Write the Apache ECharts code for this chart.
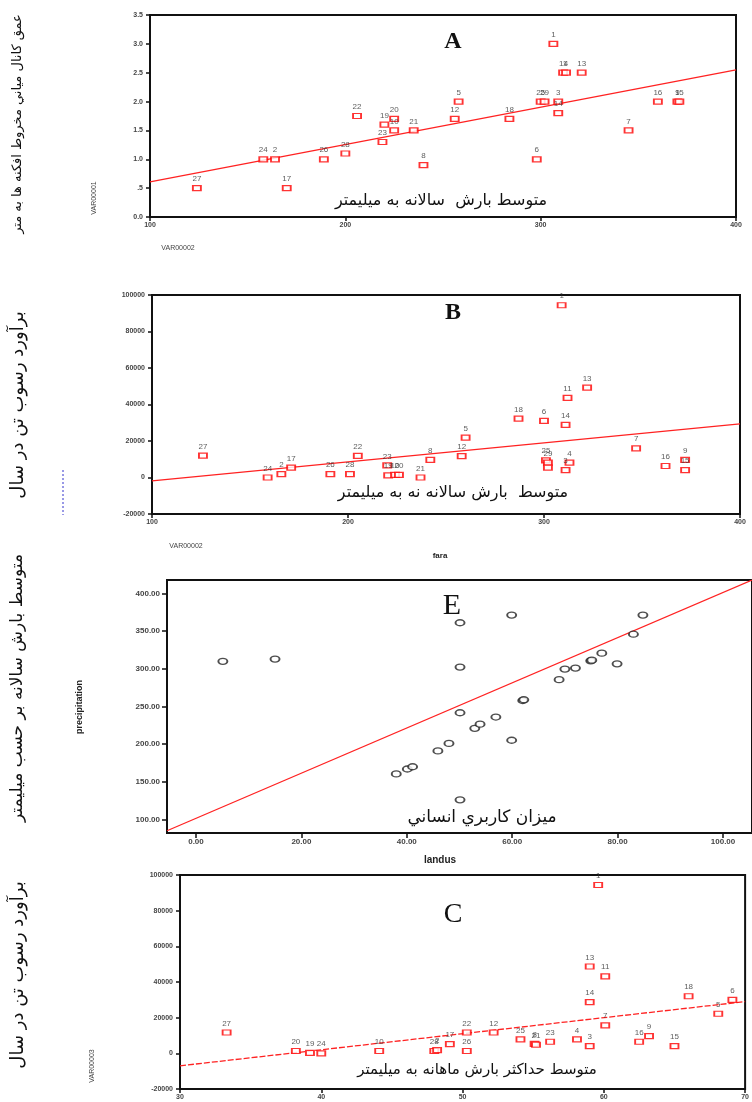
<!DOCTYPE html>
<html>
<head>
<meta charset="utf-8">
<script src="https://cdn.jsdelivr.net/npm/echarts@6/dist/echarts.min.js"></script>
<style>
  html, body { margin: 0; padding: 0; background: #fff; }
  #chart { width: 752px; height: 1102px; }
</style>
</head>
<body>
<div id="chart"></div>
<script>
// panel A: channel depth vs mean annual precipitation
var aIds = [27, 24, 2, 17, 26, 28, 22, 19, 20, 10, 23, 21, 8, 12, 5, 18, 6, 25, 29, 1, 11, 4, 13, 3, 14, 7, 16, 9, 15];
var aX = [124, 158, 164, 170, 189, 200, 206, 220, 225, 225, 219, 235, 240, 256, 258, 284, 298, 300, 302, 306.5, 311.5, 313, 321, 309, 309, 345, 360, 370, 371];
var aY = [0.5, 1.0, 1.0, 0.5, 1.0, 1.1, 1.75, 1.6, 1.7, 1.5, 1.3, 1.5, 0.9, 1.7, 2.0, 1.7, 1.0, 2.0, 2.0, 3.0, 2.5, 2.5, 2.5, 2.0, 1.8, 1.5, 2.0, 2.0, 2.0];
var aFit = [[100, 0.61], [400, 2.55]];

// panel B: sediment (t/yr) vs mean annual precipitation
var bIds = [27, 24, 2, 17, 26, 28, 22, 23, 19, 10, 20, 21, 8, 12, 5, 18, 6, 14, 11, 13, 1, 25, 29, '', 3, 4, 7, 16, 9, 15];
var bX = [126, 159, 166, 171, 191, 201, 205, 220, 220.5, 224, 226, 237, 242, 258, 260, 287, 300, 311, 312, 322, 309, 301, 302, 302, 311, 313, 347, 362, 372, 372];
var bY = [12000, 0, 1800, 5400, 1800, 1800, 11900, 6600, 1200, 1400, 1400, 0, 9700, 11700, 21800, 32300, 31000, 28800, 43600, 49200, 94400, 9400, 8200, 5400, 4000, 8100, 16000, 6300, 9700, 4000];
var bFit = [[100, -1800], [400, 29400]];

// panel E: precipitation vs land use
var eX = [5.1, 15.0, 38.0, 40.1, 41.1, 45.9, 48.0, 50.1, 50.1, 50.1, 50.1, 52.9, 53.9, 56.9, 59.9, 59.9, 62.0, 62.2, 68.9, 70.0, 72.0, 74.9, 75.1, 77.0, 79.9, 83.0, 84.8];
var eY = [310, 313, 160.5, 167, 170, 191, 201, 126, 241.7, 302.4, 361.2, 221, 226.5, 236, 205.2, 371.4, 258, 259, 285.6, 299.7, 301, 310.7, 311.5, 320.8, 306.7, 346, 371.4];
var eFit = [[-5.5, 85], [105.5, 418]];
var eXTicks = [0, 20, 40, 60, 80, 100];
var eYTicks = [100, 150, 200, 250, 300, 350, 400];

// panel C: sediment vs mean max monthly precipitation
var cIds = [27, 20, 19, 24, 10, 28, 2, 17, 26, 22, 12, 25, 8, 21, 23, 4, 3, 14, 13, 1, 11, 7, 16, 9, 15, 18, 5, 6];
var cX = [33.3, 38.2, 39.2, 40.0, 44.1, 48.0, 48.2, 49.1, 50.3, 50.3, 52.2, 54.1, 55.1, 55.2, 56.2, 58.1, 59.0, 59.0, 59.0, 59.6, 60.1, 60.1, 62.5, 63.2, 65.0, 66.0, 68.1, 69.1];
var cY = [11700, 1300, 300, 0, 1300, 1300, 1800, 5200, 1300, 11700, 11700, 7800, 5300, 4800, 6500, 7800, 4000, 28700, 48700, 94400, 43200, 15700, 6500, 9600, 4000, 32000, 22200, 30000];
var cFit = [[30, -7000], [70, 29000]];

var sans = 'Liberation Sans';
var fa = 'DejaVu Sans';

function pts(xs, ys, ids) {
    return xs.map(function (x, i) {
        return { value: [x, ys[i]], name: ids ? String(ids[i]) : '' };
    });
}

function redBoxes(xs, ys, ids, idx) {
    return {
        type: 'scatter', xAxisIndex: idx, yAxisIndex: idx, z: 3,
        symbol: 'rect', symbolSize: [8, 5],
        itemStyle: { color: '#fff', borderColor: '#f00', borderWidth: 1.5 },
        label: { show: true, position: 'top', distance: 2, formatter: '{b}', fontSize: 8, fontFamily: sans, color: '#333' },
        data: pts(xs, ys, ids)
    };
}

function fitLine(d, idx, dashed) {
    return {
        type: 'line', xAxisIndex: idx, yAxisIndex: idx, z: 2, silent: true,
        showSymbol: false, data: d,
        lineStyle: { color: '#f22', width: 1.3, type: dashed ? [6, 2] : 'solid' }
    };
}

function axX(min, max, interval) {
    return {
        type: 'value', min: min, max: max, interval: interval,
        splitLine: { show: false },
        axisLine: { onZero: false, lineStyle: { color: '#111', width: 2 } },
        axisTick: { length: 4, lineStyle: { color: '#111', width: 1.5 } },
        axisLabel: { fontSize: 7, fontFamily: sans, fontWeight: 'bold', color: '#444', margin: 5,
            formatter: function (v) { return String(v); } }
    };
}

function axY(min, max, interval, fmt) {
    var a = axX(min, max, interval);
    if (fmt) a.axisLabel.formatter = fmt;
    a.axisLabel.margin = 7;
    return a;
}

var myChart = echarts.init(document.getElementById('chart'));

var frame = { show: true, borderColor: '#111', borderWidth: 2, backgroundColor: '#fff' };

var eXAxis = axX(-5.5, 105.5, null);
delete eXAxis.interval;
eXAxis.axisTick.customValues = eXTicks;
eXAxis.axisLabel.customValues = eXTicks;
eXAxis.axisLabel.formatter = function (v) { return v.toFixed(2); };
eXAxis.axisLabel.fontSize = 8;
eXAxis.axisTick.length = 5;

var eYAxis = axY(82, 418, null, function (v) { return v.toFixed(2); });
delete eYAxis.interval;
eYAxis.axisTick.customValues = eYTicks;
eYAxis.axisLabel.customValues = eYTicks;
eYAxis.axisLabel.fontSize = 8;
eYAxis.axisTick.length = 5;

var option = {
    animation: false,
    grid: [
        Object.assign({ left: 150, top: 15, width: 586, height: 202 }, frame),
        Object.assign({ left: 152, top: 295, width: 588, height: 219 }, frame),
        Object.assign({ left: 167, top: 580, width: 585, height: 253 }, frame),
        Object.assign({ left: 180, top: 875, width: 578, height: 214 }, frame)
    ],
    xAxis: [
        Object.assign(axX(100, 400, 100), { gridIndex: 0 }),
        Object.assign(axX(100, 400, 100), { gridIndex: 1 }),
        Object.assign(eXAxis, { gridIndex: 2 }),
        Object.assign(axX(30, 70, 10), { gridIndex: 3 })
    ],
    yAxis: [
        Object.assign(axY(0, 3.5, 0.5, function (v) { return v === 0.5 ? '.5' : v.toFixed(1); }), { gridIndex: 0 }),
        Object.assign(axY(-20000, 100000, 20000), { gridIndex: 1 }),
        Object.assign(eYAxis, { gridIndex: 2 }),
        Object.assign(axY(-20000, 100000, 20000), { gridIndex: 3 })
    ],
    series: [
        fitLine(aFit, 0, false),
        redBoxes(aX, aY, aIds, 0),
        fitLine(bFit, 1, false),
        redBoxes(bX, bY, bIds, 1),
        fitLine(eFit, 2, false),
        {
            type: 'scatter', xAxisIndex: 2, yAxisIndex: 2, z: 3,
            symbol: 'circle', symbolSize: [9, 6],
            itemStyle: { color: '#fff', borderColor: '#222', borderWidth: 1.6 },
            data: pts(eX, eY)
        },
        fitLine(cFit, 3, true),
        redBoxes(cX, cY, cIds, 3)
    ],
    graphic: [
        // panel letters
        { type: 'text', x: 453, y: 42, style: { text: 'A', font: 'bold 24px "Liberation Serif"', fill: '#111', align: 'center', verticalAlign: 'middle' } },
        { type: 'text', x: 453, y: 313, style: { text: 'B', font: 'bold 24px "Liberation Serif"', fill: '#111', align: 'center', verticalAlign: 'middle' } },
        { type: 'text', x: 452, y: 606, style: { text: 'E', font: '30px "Liberation Serif"', fill: '#111', align: 'center', verticalAlign: 'middle' } },
        { type: 'text', x: 453, y: 915, style: { text: 'C', font: '28px "Liberation Serif"', fill: '#111', align: 'center', verticalAlign: 'middle' } },
        // persian notes inside plots
        { type: 'text', x: 441, y: 201, style: { text: 'متوسط بارش  سالانه به میلیمتر', font: '16px "' + fa + '"', fill: '#111', align: 'center', verticalAlign: 'middle' } },
        { type: 'text', x: 453, y: 493, style: { text: 'متوسط  بارش سالانه نه به میلیمتر', font: '16px "' + fa + '"', fill: '#111', align: 'center', verticalAlign: 'middle' } },
        { type: 'text', x: 482, y: 818, style: { text: 'میزان كاربري انساني', font: '17px "' + fa + '"', fill: '#111', align: 'center', verticalAlign: 'middle' } },
        { type: 'text', x: 477, y: 1070, style: { text: 'متوسط حداکثر بارش ماهانه به میلیمتر', font: '15px "' + fa + '"', fill: '#111', align: 'center', verticalAlign: 'middle' } },
        // rotated persian titles on the left
        { type: 'text', x: 18, y: 124, rotation: Math.PI / 2, style: { text: 'عمق كانال مياني مخروط افكنه ها به متر', font: '13px "' + fa + '"', fill: '#111', align: 'center', verticalAlign: 'middle' } },
        { type: 'text', x: 18, y: 405, rotation: Math.PI / 2, style: { text: 'برآورد رسوب تن در سال', font: '18px "' + fa + '"', fill: '#111', align: 'center', verticalAlign: 'middle' } },
        { type: 'text', x: 18, y: 688, rotation: Math.PI / 2, style: { text: 'متوسط بارش سالانه بر حسب میلیمتر', font: '17px "' + fa + '"', fill: '#111', align: 'center', verticalAlign: 'middle' } },
        { type: 'text', x: 18, y: 975, rotation: Math.PI / 2, style: { text: 'برآورد رسوب تن در سال', font: '18px "' + fa + '"', fill: '#111', align: 'center', verticalAlign: 'middle' } },
        // small axis names
        { type: 'text', x: 94, y: 198, rotation: Math.PI / 2, style: { text: 'VAR00001', font: '7px "' + sans + '"', fill: '#444', align: 'center', verticalAlign: 'middle' } },
        { type: 'text', x: 178, y: 248, style: { text: 'VAR00002', font: '7px "' + sans + '"', fill: '#444', align: 'center', verticalAlign: 'middle' } },
        { type: 'text', x: 186, y: 546, style: { text: 'VAR00002', font: '7px "' + sans + '"', fill: '#444', align: 'center', verticalAlign: 'middle' } },
        { type: 'text', x: 440, y: 556, style: { text: 'fara', font: 'bold 8px "' + sans + '"', fill: '#222', align: 'center', verticalAlign: 'middle' } },
        { type: 'text', x: 80, y: 707, rotation: Math.PI / 2, style: { text: 'precipitation', font: 'bold 9px "' + sans + '"', fill: '#222', align: 'center', verticalAlign: 'middle' } },
        { type: 'text', x: 440, y: 860, style: { text: 'landus', font: 'bold 10px "' + sans + '"', fill: '#222', align: 'center', verticalAlign: 'middle' } },
        { type: 'text', x: 92, y: 1066, rotation: Math.PI / 2, style: { text: 'VAR00003', font: '7px "' + sans + '"', fill: '#444', align: 'center', verticalAlign: 'middle' } },
        // blue dotted stub beside panel B
        { type: 'line', shape: { x1: 63, y1: 470, x2: 63, y2: 515 }, style: { stroke: '#33c', lineWidth: 1, lineDash: [2, 2] } }
    ]
};

myChart.setOption(option);
</script>
</body>
</html>
